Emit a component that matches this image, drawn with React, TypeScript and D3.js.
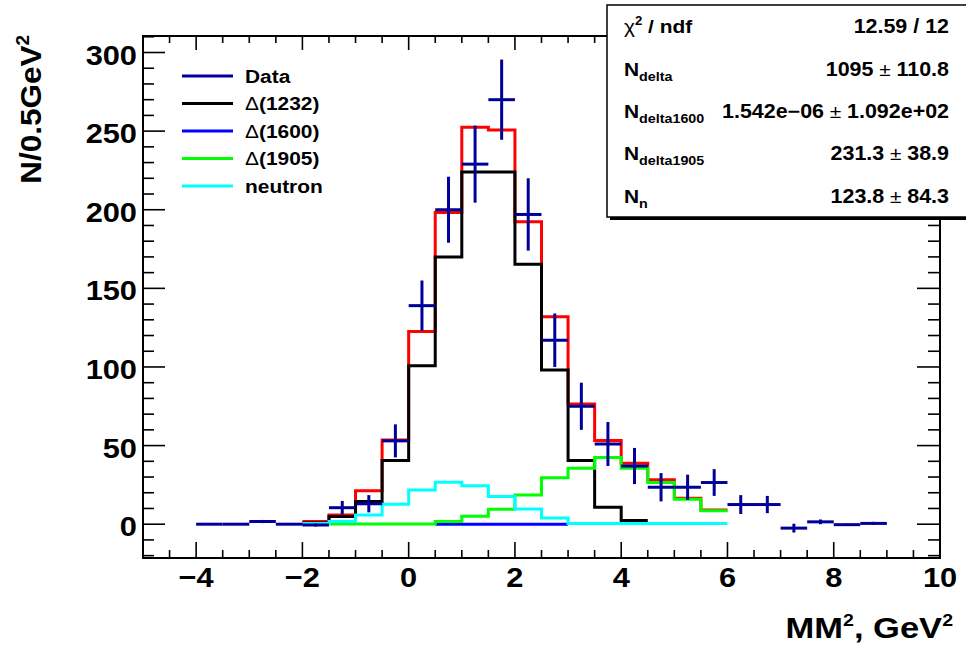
import React from "react";
import * as d3 from "d3";

// ---------- data ----------
const binWidth = 0.5;
const dataCenters = [-3.75, -3.25, -2.75, -2.25, -1.75, -1.25, -0.75, -0.25, 0.25, 0.75, 1.25, 1.75, 2.25, 2.75, 3.25, 3.75, 4.25, 4.75, 5.25, 5.75, 6.25, 6.75, 7.25, 7.75, 8.25, 8.75];
const dataValues = [0, 0, 1.7, 0, -0.5, 10.5, 13, 53, 139, 200, 229, 270, 197, 117, 75, 51, 37, 23.5, 23.5, 26.5, 12.5, 12.5, -2.5, 1.5, -0.3, 0.5];
const dataErrors = [0.4, 0.4, 1, 0.4, 1, 4.3, 5.5, 10.5, 16, 21, 24.5, 25.5, 23, 17, 15, 14, 11.5, 9, 8, 8.5, 6, 5.5, 2.8, 1.5, 0.6, 1];

const totalStart = -2;
const totalFit = [1.7, 5.9, 21.2, 53.6, 122.5, 198.3, 252.4, 250.7, 192.4, 132, 76.5, 53.2, 38.8, 28.2, 16.5, 9.1];
const delta1232Start = -2;
const delta1232 = [0.8, 4.9, 14.4, 40.5, 100.7, 170, 224, 224, 165.3, 98, 40.5, 10.8, 2.3];
const delta1600Start = 0.5;
const delta1600 = [0, 0, 0, 0, 0];
const delta1905Start = -1.5;
const delta1905 = [0.2, 0.2, 0.2, 0.2, 1.7, 5, 9.5, 18.6, 29.6, 35.6, 42.4, 35.6, 26.5, 15.9, 8.5];
const neutronStart = -2;
const neutron = [0.4, 1.7, 5.9, 12.7, 21.8, 26.7, 24.5, 17.6, 9.6, 4, 0.5, 0.5, 0.5, 0.5, 0.5, 0.5];

const xTicks = [-4, -2, 0, 2, 4, 6, 8, 10];
const yTicks = [0, 50, 100, 150, 200, 250, 300];

const legendLabels = ["Data", "Δ(1232)", "Δ(1600)", "Δ(1905)", "neutron"];
const legendColors = ["#000099", "#000000", "#0000ff", "#00ff00", "#00ffff"];

const statNames = [["χ", "2", " / ndf", ""], ["N", "", "", "delta"], ["N", "", "", "delta1600"], ["N", "", "", "delta1905"], ["N", "", "", "n"]];
const statValues = [["12.59 / 12"], ["1095", "110.8"], ["1.542e−06", "1.092e+02"], ["231.3", "38.9"], ["123.8", "84.3"]];

// ---------- layout ----------
const W = 966, H = 650;
const FL = 143, FR = 940, FT = 36, FB = 558;
const FONT = "'Liberation Sans', Arial, Helvetica, sans-serif";

const x = d3.scaleLinear().domain([-5, 10]).range([FL, FR]);
const y = d3.scaleLinear().domain([-21.5, 310.5]).range([FB, FT]);

function stepPath(start: number, vals: number[]) {
  let p = "";
  vals.forEach((v, i) => {
    const x0 = x(start + i * binWidth), x1 = x(start + (i + 1) * binWidth);
    if (i === 0) p += `M${x0},${y(v)}`;
    else p += `V${y(v)}`;
    p += `H${x1}`;
  });
  return p;
}

function T(props: any) {
  const { x: tx, y: ty, anchor = "start", size, weight = "bold", rotate, sx = 1.1, children } = props;
  return (
    <text
      transform={`translate(${tx},${ty})${rotate ? ` rotate(${rotate})` : ""} scale(${sx},1)`}
      textAnchor={anchor}
      fontSize={size}
      fontWeight={weight}
      fontFamily={FONT}
      fill="#000"
    >
      {children}
    </text>
  );
}

export default function App() {
  const xMinor = d3.range(-5, 10.001, 0.5);
  const yMinor = d3.range(-20, 311, 10);

  const boxX = 607, boxY = 5, boxW = 362, boxH = 212;
  const rowH = boxH / 5;

  return (
    <svg width={W} height={H} style={{ position: "absolute", left: 0, top: 0, background: "#fff" }}>
      <rect x={0} y={0} width={W} height={H} fill="#fff" />

      {/* fit curves */}
      <path d={stepPath(totalStart, totalFit)} fill="none" stroke="#ff0000" strokeWidth={3} />
      <path d={stepPath(delta1232Start, delta1232)} fill="none" stroke="#000" strokeWidth={3} />
      <path d={stepPath(delta1600Start, delta1600)} fill="none" stroke="#0000ff" strokeWidth={3} />
      <path d={stepPath(delta1905Start, delta1905)} fill="none" stroke="#00ff00" strokeWidth={3} />
      <path d={stepPath(neutronStart, neutron)} fill="none" stroke="#00ffff" strokeWidth={3} />

      {/* data */}
      <g stroke="#000099" strokeWidth={3}>
        {dataCenters.map((c, i) => (
          <g key={i}>
            <line x1={x(c - binWidth / 2)} x2={x(c + binWidth / 2)} y1={y(dataValues[i])} y2={y(dataValues[i])} />
            <line x1={x(c)} x2={x(c)} y1={y(dataValues[i] - dataErrors[i])} y2={y(dataValues[i] + dataErrors[i])} />
          </g>
        ))}
      </g>

      {/* frame */}
      <rect x={FL} y={FT} width={FR - FL} height={FB - FT} fill="none" stroke="#000" strokeWidth={2} />
      <g stroke="#000" strokeWidth={1.6}>
        {xMinor.map((v, i) => {
          const major = Math.abs(v - Math.round(v / 2) * 2) < 1e-6;
          return (
            <g key={"x" + i}>
              <line x1={x(v)} x2={x(v)} y1={FB} y2={FB - (major ? 16 : 8)} />
              <line x1={x(v)} x2={x(v)} y1={FT} y2={FT + (major ? 14 : 7)} />
            </g>
          );
        })}
        {yMinor.map((v, i) => {
          const major = v % 50 === 0;
          return (
            <g key={"y" + i}>
              <line x1={FL} x2={FL + (major ? 22 : 11)} y1={y(v)} y2={y(v)} />
              <line x1={FR} x2={FR - (major ? 23 : 12)} y1={y(v)} y2={y(v)} />
            </g>
          );
        })}
      </g>

      {/* tick labels */}
      {xTicks.map((v) => (
        <T key={"xl" + v} x={x(v)} y={587} anchor="middle" size={28}>
          {d3.format("d")(v)}
        </T>
      ))}
      {yTicks.map((v) => (
        <T key={"yl" + v} x={137} y={y(v) + 12} anchor="end" size={28}>
          {v}
        </T>
      ))}

      {/* axis titles */}
      <T x={953} y={638} anchor="end" size={30} sx={1.15}>
        MM<tspan fontSize={17} dy={-12}>2</tspan>
        <tspan dy={12}>, GeV</tspan>
        <tspan fontSize={17} dy={-12}>2</tspan>
      </T>
      <T x={41} y={35} anchor="end" size={30} rotate={-90} sx={1.05}>
        N/0.5GeV<tspan fontSize={18} dy={-12}>2</tspan>
      </T>

      {/* legend */}
      {legendLabels.map((lab, i) => {
        const ly = 76 + i * 27.5;
        return (
          <g key={"lg" + i}>
            <line x1={182} x2={233} y1={ly} y2={ly} stroke={legendColors[i]} strokeWidth={3} />
            <T x={245} y={ly + 6.5} size={19}>
              {lab.startsWith("Δ") ? (
                <>
                  <tspan fontWeight="normal">Δ</tspan>
                  {lab.slice(1)}
                </>
              ) : (
                lab
              )}
            </T>
          </g>
        );
      })}

      {/* stats box */}
      <rect x={boxX + 3} y={boxY + 3} width={boxW} height={boxH} fill="#000" />
      <rect x={boxX} y={boxY} width={boxW} height={boxH} fill="#fff" stroke="#000" strokeWidth={1.5} />
      {statNames.map((n, i) => {
        const by = boxY + (i + 0.5) * rowH + 7;
        const v = statValues[i];
        return (
          <g key={"st" + i}>
            <T x={624} y={by} size={19}>
              {n[0] === "χ" ? <tspan fontWeight="normal">χ</tspan> : n[0]}
              {n[1] ? (
                <tspan fontSize={12} dy={-8}>
                  {n[1]}
                </tspan>
              ) : null}
              {n[2] ? <tspan dy={8}>{n[2]}</tspan> : null}
              {n[3] ? (
                <tspan fontSize={13} dy={5}>
                  {n[3]}
                </tspan>
              ) : null}
            </T>
            <T x={949} y={by} anchor="end" size={19.5}>
              {v.length === 1 ? (
                v[0]
              ) : (
                <>
                  {v[0]}
                  <tspan fontWeight="normal" fontSize={19}>
                    {" ± "}
                  </tspan>
                  {v[1]}
                </>
              )}
            </T>
          </g>
        );
      })}
    </svg>
  );
}
